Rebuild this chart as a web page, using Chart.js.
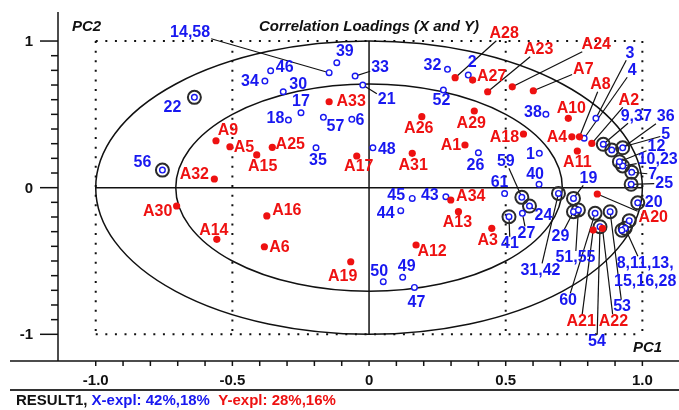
<!DOCTYPE html>
<html>
<head>
<meta charset="utf-8">
<script src="https://cdn.jsdelivr.net/npm/chart.js@4.4.1/dist/chart.umd.min.js"></script>
<style>
html, body { margin: 0; padding: 0; background: #fff; }
canvas { display: block; }
</style>
</head>
<body>
<canvas id="loadings" width="679" height="410"></canvas>
<script>
"use strict";

// X loadings (blue open circles). Ringed = marked variables.
const xVarLabels = ["1", "2", "3", "4", "5", "6", "7", "9,37", "10,23", "12", "14,58", "17", "18", "19", "20",
    "21", "22", "24", "25", "26", "27", "29", "30", "31,42", "32", "33", "34", "35", "36", "38", "39", "40",
    "41", "43", "44", "45", "46", "47", "48", "49", "50", "51,55", "52", "53", "54", "56", "57", "59", "60",
    "61", "8,11,13,\n15,16,28", "", ""];
const xPC1 = [0.623, 0.363, 0.830, 0.787, 0.888, -0.063, 0.961, 0.857, 0.928, 0.916, -0.146, -0.249, -0.295,
    0.748, 0.983, -0.023, -0.639, 0.587, 0.959, 0.400, 0.561, 0.748, -0.314, 0.693, 0.287, -0.051, -0.381,
    -0.194, 0.928, 0.647, -0.118, 0.622, 0.512, 0.281, 0.116, 0.158, -0.360, 0.166, 0.014, 0.123, 0.052,
    0.766, 0.272, 0.882, 0.845, -0.756, -0.167, 0.559, 0.827, 0.496, 0.937, 0.952, 0.925];
const xPC2 = [0.234, 0.768, 0.473, 0.337, 0.257, 0.466, 0.105, 0.296, 0.148, 0.177, 0.784, 0.511, 0.461,
    -0.073, -0.103, 0.700, 0.616, -0.125, 0.023, 0.238, -0.175, -0.164, 0.654, -0.039, 0.807, 0.761, 0.727,
    0.272, 0.272, 0.500, 0.852, 0.023, -0.198, -0.062, -0.157, -0.073, 0.797, -0.680, 0.272, -0.611, -0.641,
    -0.152, 0.666, -0.164, -0.266, 0.120, 0.480, -0.066, -0.175, -0.040, -0.277, -0.225, -0.290];
const xMarked = [false, false, false, false, true, false, true, true, true, true, false, false, false,
    true, true, false, true, true, true, false, false, true, false, true, false, false, false,
    false, true, false, false, false, true, false, false, false, false, false, false, false, false,
    true, false, true, true, true, false, true, true, false, true, true, true];

// Y loadings (red dots)
const yVarLabels = ["A1", "A2", "A3", "A4", "A5", "A6", "A7", "A8", "A9", "A10", "A11", "A12", "A13", "A14",
    "A15", "A16", "A17", "A18", "A19", "A20", "A21", "A22", "A23", "A24", "A25", "A26", "A27", "A28", "A29",
    "A30", "A31", "A32", "A33", "A34"];
const yPC1 = [0.351, 0.815, 0.449, 0.742, -0.509, -0.383, 0.601, 0.770, -0.560, 0.729, 0.762, 0.172, 0.327,
    -0.557, -0.411, -0.374, -0.045, 0.565, -0.067, 0.835, 0.820, 0.854, 0.434, 0.524, -0.354, 0.193, 0.379,
    0.315, 0.385, -0.704, 0.158, -0.566, -0.146, 0.299];
const yPC2 = [0.291, 0.302, -0.277, 0.347, 0.279, -0.403, 0.661, 0.347, 0.320, 0.473, 0.250, -0.391, -0.164,
    -0.352, 0.223, -0.193, 0.216, 0.366, -0.505, -0.043, -0.289, -0.277, 0.654, 0.688, 0.275, 0.484, 0.734,
    0.750, 0.523, -0.125, 0.234, 0.059, 0.586, -0.084];

const xTickValues = [-1, -0.5, 0, 0.5, 1];
const xTickLabels = ["-1.0", "-0.5", "0", "0.5", "1.0"];
const yTickValues = [1, 0, -1];
const yTickLabels = ["1", "0", "-1"];
const titleText = "Correlation Loadings (X and Y)";
const resultText = ["RESULT1, ", "X-expl: 42%,18%", "  Y-expl: 28%,16%"];

// label placement: pixel offset of the label centre from its point, and leader line yes/no
const xLabelOffset = [[-9, 1], [4, -12], [34, -65], [48, -68], [54, -15], [8, 1], [21, 2], [33, -28], [35, -6],
    [37, -15], [-139, -40], [0, -11], [-13, -1], [15, -20], [16, 0], [24, 15], [-22, 10], [14, 10], [33, -1],
    [-3, 13], [4, 20], [-13, 25], [15, -7], [-18, 77], [-15, -4], [25, -8], [-15, 1], [2, 13], [43, -31],
    [-13, -2], [8, -11], [-4, -10], [1, 27], [-16, -1], [-15, 3], [-16, -3], [14, -3], [2, 15], [14, 2],
    [4, -11], [-4, -10], [-3, 48], [-2, 11], [12, 95], [-3, 115], [-20, -7], [12, 9], [-16, -36], [-27, 87],
    [-5, -11], [20, 44], [0, 0], [0, 0]];
const xLeader = [false, false, true, true, true, false, true, true, true, true, true, false, false,
    true, false, true, false, true, true, false, true, true, false, true, false, true, false,
    false, true, false, false, false, true, false, false, false, false, false, false, false, false,
    true, false, true, true, false, false, true, true, false, true, false, false];
const yLabelOffset = [[-14, 1], [37, -43], [-4, 12], [-15, 1], [14, 1], [15, 1], [50, -21], [21, -52], [12, -10],
    [3, -10], [0, 12], [16, 7], [-1, 11], [-3, -9], [6, 12], [20, -5], [2, 11], [-19, 4], [-8, 15], [56, 24],
    [-12, 92], [11, 93], [51, -42], [84, -42], [18, -3], [-3, 12], [19, -3], [49, -44], [-3, 13], [-19, 6],
    [1, 12], [-20, -4], [22, 0], [20, -3]];
const yLeader = [false, true, false, false, false, false, true, true, false, false, false, false, false, false,
    false, false, false, false, false, true, true, true, true, true, false, false, false, true, false,
    false, false, false, false, false];

const BLUE = "#1818f0";
const RED = "#ee1111";
const INK = "#111";
const LABEL_FONT = "bold 16px 'Liberation Sans', Arial, sans-serif";
const AXIS_FONT = "bold 15px 'Liberation Sans', Arial, sans-serif";
const ITALIC_FONT = "italic bold 15px 'Liberation Sans', Arial, sans-serif";

function line(ctx, x1, y1, x2, y2) {
    ctx.beginPath();
    ctx.moveTo(x1, y1);
    ctx.lineTo(x2, y2);
    ctx.stroke();
}

/** half-size of a (possibly two-line) label box */
function labelBox(ctx, text) {
    const rows = text.split("\n");
    const w = Math.max(...rows.map((r) => ctx.measureText(r).width));
    return { hw: w / 2 + 1, hh: (rows.length * 18 - 6) / 2 + 1 };
}

/** line from the point to the edge of its label box */
function drawLeader(ctx, px, py, cx, cy, box) {
    const dx = px - cx;
    const dy = py - cy;
    const t = Math.min(dx ? box.hw / Math.abs(dx) : Infinity, dy ? box.hh / Math.abs(dy) : Infinity);
    if (t >= 1) return;
    line(ctx, cx + dx * t, cy + dy * t, px, py);
}

function drawLabel(ctx, text, cx, cy) {
    const rows = text.split("\n");
    const top = cy - ((rows.length - 1) * 18) / 2;
    rows.forEach((r, k) => ctx.fillText(r, cx, top + k * 18));
}

// dotted frame, cross, the two correlation circles and the leader lines
const framePlugin = {
    id: "framePlugin",
    beforeDatasetsDraw(chart) {
        const { ctx } = chart;
        const X = (v) => chart.scales.x.getPixelForValue(v);
        const Y = (v) => chart.scales.y.getPixelForValue(v);

        ctx.save();
        ctx.strokeStyle = INK;
        ctx.lineWidth = 2;
        ctx.setLineDash([2, 7.6]);
        [-1, -0.5, 0.5, 1].forEach((v) => line(ctx, X(v), Y(1), X(v), Y(-1)));
        [1, -1].forEach((v) => line(ctx, X(-1), Y(v), X(1), Y(v)));
        ctx.setLineDash([]);

        ctx.lineWidth = 1.5;
        line(ctx, X(-1), Y(0), X(1), Y(0));
        line(ctx, X(0), Y(1), X(0), Y(-1));
        [1, Math.SQRT1_2].forEach((r) => {
            ctx.beginPath();
            ctx.ellipse(X(0), Y(0), X(r) - X(0), Y(0) - Y(r), 0, 0, 2 * Math.PI);
            ctx.stroke();
        });

        ctx.lineWidth = 1.2;
        ctx.font = LABEL_FONT;
        xVarLabels.forEach((lab, i) => {
            if (!xLeader[i]) return;
            const px = X(xPC1[i]), py = Y(xPC2[i]);
            drawLeader(ctx, px, py, px + xLabelOffset[i][0], py + xLabelOffset[i][1], labelBox(ctx, lab));
        });
        yVarLabels.forEach((lab, i) => {
            if (!yLeader[i]) return;
            const px = X(yPC1[i]), py = Y(yPC2[i]);
            drawLeader(ctx, px, py, px + yLabelOffset[i][0], py + yLabelOffset[i][1], labelBox(ctx, lab));
        });
        ctx.restore();
    }
};

// variable names next to the points
const labelPlugin = {
    id: "labelPlugin",
    afterDatasetsDraw(chart) {
        const { ctx } = chart;
        const X = (v) => chart.scales.x.getPixelForValue(v);
        const Y = (v) => chart.scales.y.getPixelForValue(v);

        ctx.save();
        ctx.font = LABEL_FONT;
        ctx.textAlign = "center";
        ctx.textBaseline = "middle";
        ctx.fillStyle = BLUE;
        xVarLabels.forEach((lab, i) => {
            if (!lab) return;
            drawLabel(ctx, lab, X(xPC1[i]) + xLabelOffset[i][0], Y(xPC2[i]) + xLabelOffset[i][1]);
        });
        ctx.fillStyle = RED;
        yVarLabels.forEach((lab, i) => {
            drawLabel(ctx, lab, X(yPC1[i]) + yLabelOffset[i][0], Y(yPC2[i]) + yLabelOffset[i][1]);
        });
        ctx.restore();
    }
};

// axes, ticks, titles and the footer line
const axisPlugin = {
    id: "axisPlugin",
    afterDraw(chart) {
        const { ctx, chartArea: area } = chart;
        const X = (v) => chart.scales.x.getPixelForValue(v);
        const Y = (v) => chart.scales.y.getPixelForValue(v);

        ctx.save();
        ctx.strokeStyle = INK;
        ctx.lineWidth = 1.5;
        line(ctx, area.left, area.top, area.left, area.bottom);
        line(ctx, 10, area.bottom, chart.width, area.bottom);

        for (let k = -10; k <= 10; k++) {
            const v = k / 10;
            const major = k % 10 === 0;
            line(ctx, area.left - (major ? 18 : 7), Y(v), area.left, Y(v));
            line(ctx, X(v), area.bottom, X(v), area.bottom + 5);
        }

        ctx.fillStyle = INK;
        ctx.font = AXIS_FONT;
        ctx.textBaseline = "middle";
        ctx.textAlign = "right";
        yTickValues.forEach((v, i) => ctx.fillText(yTickLabels[i], 33, Y(v) + 1));
        ctx.textAlign = "center";
        xTickValues.forEach((v, i) => ctx.fillText(xTickLabels[i], X(v), area.bottom + 20));

        ctx.font = ITALIC_FONT;
        ctx.fillText(titleText, X(0), 27);
        ctx.textAlign = "left";
        ctx.fillText("PC2", 72, 27);
        ctx.fillText("PC1", 633, area.bottom - 13);

        ctx.strokeStyle = "#333";
        ctx.lineWidth = 2;
        line(ctx, 10, 390, chart.width, 390);

        ctx.font = AXIS_FONT;
        let x = 16;
        [INK, BLUE, RED].forEach((c, i) => {
            ctx.fillStyle = c;
            ctx.fillText(resultText[i], x, 401);
            x += ctx.measureText(resultText[i]).width;
        });
        ctx.restore();
    }
};

const xPoints = xPC1.map((v, i) => ({ x: v, y: xPC2[i] }));
const ringPoints = xPoints.filter((p, i) => xMarked[i]);
const yPoints = yPC1.map((v, i) => ({ x: v, y: yPC2[i] }));

new Chart(document.getElementById("loadings"), {
    type: "scatter",
    data: {
        datasets: [
            {
                label: "marked",
                data: ringPoints,
                pointRadius: 6.5,
                borderColor: "#2a2a2a",
                borderWidth: 2,
                backgroundColor: "rgba(0,0,0,0)",
                order: 3
            },
            {
                label: "X",
                data: xPoints,
                pointRadius: 2.8,
                borderColor: BLUE,
                borderWidth: 1.4,
                backgroundColor: "#fff",
                order: 2
            },
            {
                label: "Y",
                data: yPoints,
                pointRadius: 3.6,
                borderColor: RED,
                borderWidth: 0,
                backgroundColor: RED,
                order: 1
            }
        ]
    },
    options: {
        responsive: false,
        animation: false,
        events: [],
        layout: { autoPadding: false, padding: { left: 58, right: 0, top: 12, bottom: 49 } },
        plugins: {
            legend: { display: false },
            tooltip: { enabled: false }
        },
        scales: {
            x: { type: "linear", min: -1.138, max: 1.134, display: false },
            y: { type: "linear", min: -1.182, max: 1.198, display: false }
        }
    },
    plugins: [framePlugin, labelPlugin, axisPlugin]
});
</script>
</body>
</html>
